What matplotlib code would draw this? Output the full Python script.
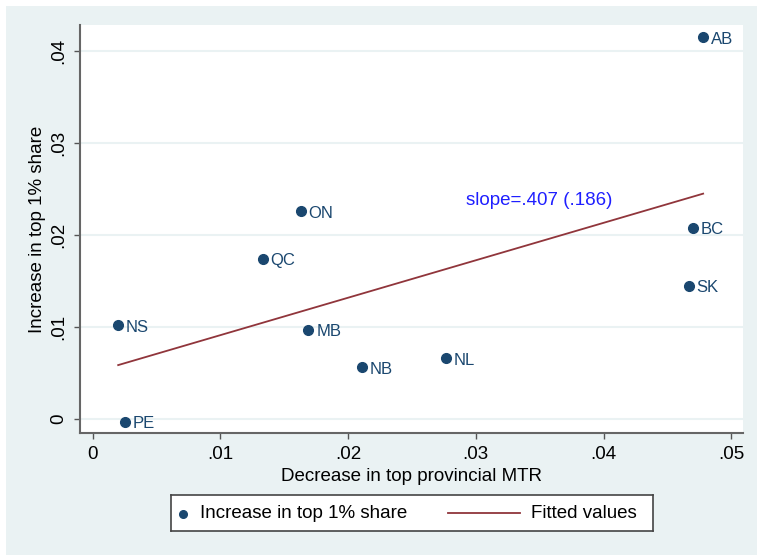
import matplotlib

matplotlib.use("Agg")

import matplotlib.pyplot as plt
import numpy as np
from matplotlib.patches import Rectangle
from matplotlib.ticker import FuncFormatter

plt.rcParams["font.family"] = ["Liberation Sans", "DejaVu Sans"]

provinces = ["AB", "BC", "SK", "ON", "QC", "NS", "MB", "NB", "NL", "PE"]
mtr_decrease = [0.0478, 0.0470, 0.0467, 0.0163, 0.0133, 0.0020, 0.0169, 0.0211, 0.0277, 0.0025]
top1_increase = [0.0415, 0.0208, 0.0145, 0.0226, 0.0174, 0.0102, 0.0097, 0.0056, 0.0066, -0.0003]
slope = 0.407
slope_se = 0.186

x_ticks = [0, 0.01, 0.02, 0.03, 0.04, 0.05]
y_ticks = [0, 0.01, 0.02, 0.03, 0.04]

NAVY = "#1a476f"
MAROON = "#90353b"
BG = "#eaf2f3"
FS = 13.5

W, H = 757, 555
fig = plt.figure(figsize=(W / 100, H / 100), dpi=100)
fig.patch.set_facecolor("white")
fig.patches.append(Rectangle((6 / W, 0), 1, (H - 6) / H, transform=fig.transFigure,
                             facecolor=BG, edgecolor="none", zorder=-10))

ax = fig.add_axes([80 / W, (H - 433) / H, 663 / W, 408 / H])
ax.set_facecolor("white")
ax.set_xlim(-0.00099, 0.05092)
ax.set_ylim(-0.00153, 0.04283)

# fitted line through the means with the reported slope
x = np.array(mtr_decrease)
y = np.array(top1_increase)
intercept = y.mean() - slope * x.mean()
x_fit = np.array([x.min(), x.max()])
ax.plot(x_fit, intercept + slope * x_fit, color=MAROON, linewidth=1.3, zorder=2)

ax.plot(x, y, linestyle="none", marker="o", markersize=7, color=NAVY, zorder=3)
for name, xv, yv in zip(provinces, mtr_decrease, top1_increase):
    ax.annotate(name, (xv, yv), xytext=(5.5, -1.5), textcoords="offset points",
                va="center", ha="left", fontsize=12, color=NAVY)

ax.text(0.0292, 0.0238, f"slope={slope:.3f} ({slope_se:.3f})".replace("0.", "."),
        color="#1f1fff", fontsize=FS, va="center", ha="left")

fmt = FuncFormatter(lambda v, _: "0" if abs(v) < 1e-12 else f"{v:.2f}".replace("0.", ".", 1))
ax.set_xticks(x_ticks)
ax.set_yticks(y_ticks)
ax.xaxis.set_major_formatter(fmt)
ax.yaxis.set_major_formatter(fmt)
ax.tick_params(axis="both", length=4.5, width=1, color="#555555", labelsize=FS)
ax.tick_params(axis="x", pad=5)
ax.tick_params(axis="y", pad=5)
for lbl in ax.get_yticklabels():
    lbl.set_rotation(90)
    lbl.set_va("center")

ax.yaxis.grid(True, color=BG, linewidth=1.5)
ax.set_axisbelow(True)
for side in ("top", "right"):
    ax.spines[side].set_visible(False)
for side in ("left", "bottom"):
    ax.spines[side].set_color("#666666")
    ax.spines[side].set_linewidth(1.5)

ax.set_xlabel("Decrease in top provincial MTR", fontsize=FS)
ax.set_ylabel("Increase in top 1% share", fontsize=FS)
ax.xaxis.set_label_coords(0.5, -0.085)
ax.yaxis.set_label_coords(-0.052, 0.5)

# legend box below the plot
lg = fig.add_axes([171 / W, (H - 531) / H, 482 / W, 36 / H])
lg.set_xlim(171, 653)
lg.set_ylim(36, 0)
lg.set_xticks([])
lg.set_yticks([])
lg.set_facecolor("white")
for sp in lg.spines.values():
    sp.set_color("#444444")
    sp.set_linewidth(1.2)
lg.plot([183], [18.5], marker="o", markersize=5.5, color=NAVY, linestyle="none")
lg.text(200, 18.5, "Increase in top 1% share", fontsize=FS, va="center", ha="left")
lg.plot([448, 520], [18, 18], color=MAROON, linewidth=1.3)
lg.text(531, 18.5, "Fitted values", fontsize=FS, va="center", ha="left")

fig.savefig("out.png", dpi=100)
